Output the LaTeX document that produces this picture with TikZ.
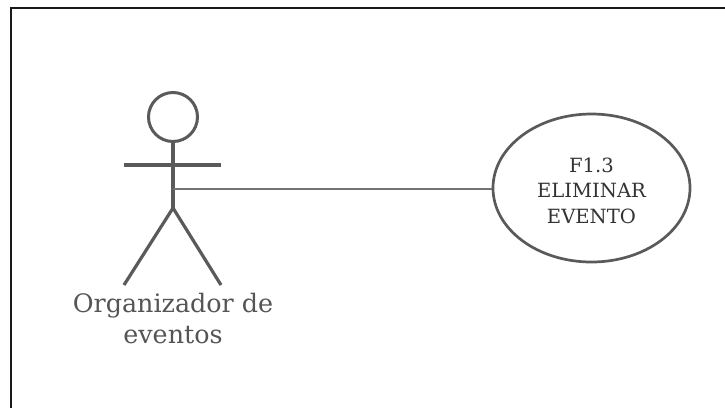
\documentclass[tikz,border=0pt]{standalone}
\usepackage{fontspec}
\setmainfont{DejaVu Serif}
\usetikzlibrary{shapes.geometric}
\definecolor{ink}{HTML}{5A5A5A}
\definecolor{txt}{HTML}{555555}
\tikzset{
  frameline/.style={draw=black!90,line width=1.9pt},
  actorline/.style={draw=ink,line width=3.2pt},
  headline/.style={draw=ink,line width=3pt},
  linkline/.style={draw=ink!85,line width=2pt},
  usecase/.style={ellipse,draw=ink,line width=2.7pt,minimum width=197pt,minimum height=148pt,inner sep=0pt,align=center,text=black!80,font=\fontsize{19.6}{25.7}\selectfont},
  actorlabel/.style={align=center,text=txt,inner sep=0pt,font=\fontsize{25.4}{31}\selectfont}
}
\begin{document}
\begin{tikzpicture}[x=1pt,y=-1pt]
\useasboundingbox (0,0) rectangle (725,408);
\draw[frameline] (725,8) -- (11,8) -- (11,408);
\node[circle,headline,minimum size=49pt,inner sep=0pt] (head) at (173,117) {};
\coordinate (hip) at (173,208);
\coordinate (arml) at (124,165);
\coordinate (armr) at (221,165);
\coordinate (footl) at (124,285);
\coordinate (footr) at (221,285);
\coordinate (waist) at (173,189);
\draw[actorline] (head.south) -- (hip);
\draw[actorline] (arml) -- (armr);
\draw[actorline] (footl) -- (hip) -- (footr);
\node[actorlabel] (actorname) at (173,319) {Organizador de\\eventos};
\node[usecase] (uc) at (591.5,188) {\rule{0pt}{20pt}F1.3\\ELIMINAR\\EVENTO};
\draw[linkline] (waist) -- (uc.west |- waist);
\end{tikzpicture}
\end{document}
